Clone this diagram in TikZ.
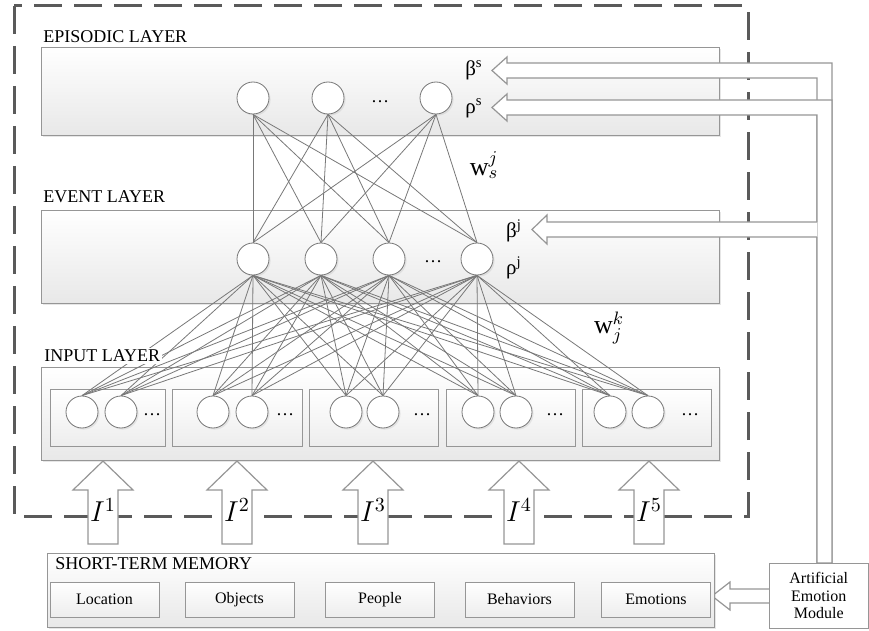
\documentclass[tikz,border=0pt]{standalone}
\usepackage{fontspec}
\setmainfont{Liberation Serif}
\usepackage{amsmath}
\usetikzlibrary{positioning, shadows}
\definecolor{boxgrey}{RGB}{150,150,150}
\definecolor{wiregrey}{RGB}{120,120,120}
\definecolor{framegrey}{RGB}{90,90,90}

\begin{document}
\begin{tikzpicture}[x=0.5pt, y=-0.5pt, font=\fontsize{9}{10}\selectfont,
    layerbox/.style={draw=boxgrey, top color=white, bottom color=black!9, inner sep=0pt,
      drop shadow={opacity=.2, shadow xshift=1pt, shadow yshift=-1pt}},
    groupbox/.style={draw=boxgrey, top color=white, bottom color=black!7, minimum height=28.5pt, inner sep=0pt},
    memcell/.style={draw=boxgrey, top color=white, bottom color=black!7, minimum width=54.5pt,
      minimum height=17.5pt, font=\fontsize{8}{9}\selectfont},
    neuron/.style={circle, draw=wiregrey, fill=white, minimum size=16pt, inner sep=0pt,
      drop shadow={opacity=.15, shadow xshift=.8pt, shadow yshift=-.8pt}},
    wire/.style={draw=wiregrey, line width=0.4pt},
    blockarrow/.style={draw=boxgrey, fill=white, line width=0.6pt},
    lbl/.style={anchor=west, inner sep=0pt},
    greek/.style={font=\fontsize{10.5}{12}\selectfont}]
    \useasboundingbox (0,0) rectangle (869,631);
    % Frame
    \draw[framegrey, line width=1.5pt, dash pattern=on 14pt off 6pt] (14,6) rectangle (748,516);
    % Layers
    \node[layerbox, minimum width=339pt, minimum height=44pt] (episodic) at (380,91) {};
    \node[lbl] (episodiclbl) at (43,37) {EPISODIC LAYER};
    \node[layerbox, minimum width=339pt, minimum height=46.5pt] (event) at (380,256.5) {};
    \node[lbl] (eventlbl) at (43,197) {EVENT LAYER};
    \node[layerbox, minimum width=339pt, minimum height=46.5pt] (input) at (380,413.5) {};
    \foreach \n/\cx/\w in {1/107.5/57.5, 2/237/65, 3/373.5/64.5, 4/510.5/64.5, 5/646.5/64.5}
      \node[groupbox, minimum width=\w pt] (g\n) at (\cx,417.5) {};
    % Neurons
    \foreach \n/\cx in {1/253, 2/328, 3/436}
      \node[neuron] (ep\n) at (\cx,98) {};
    \node (epdots) at (380,102) {\dots};
    \foreach \n/\cx in {1/253, 2/321, 3/389, 4/477}
      \node[neuron] (ev\n) at (\cx,259) {};
    \node (evdots) at (433,262) {\dots};
    \foreach \n/\a/\b/\d in {1/82/121/152, 2/213/252/285, 3/346/383/422, 4/478/516/555, 5/610/648/690}{
      \node[neuron] (in\n-1) at (\a,412) {};
      \node[neuron] (in\n-2) at (\b,412) {};
      \node (indots\n) at (\d,415) {\dots};
    }
    % Weights
    \foreach \i in {1,2,3}
      \foreach \j in {1,...,4}
        \draw[wire] (ep\i.south) -- (ev\j.north);
    \foreach \j in {1,...,4}
      \foreach \k in {1,...,5}
        \foreach \m in {1,2}
          \draw[wire] (ev\j.south) -- (in\k-\m.north);
    \node[lbl, fill=white, inner sep=1pt] (inputlbl) at (42,356) {INPUT LAYER};
    \node[fill=white, inner sep=1pt] (wsj) at (484,165) {\fontsize{13}{15}\selectfont$\mathrm{w}_s^j$};
    \node[fill=white, inner sep=1pt] (wjk) at (609,328) {\fontsize{13}{15}\selectfont$\mathrm{w}_j^k$};
    \node[greek] (betas) at (474,70) {β\textsuperscript{s}};
    \node[greek] (rhos) at (474,108) {ρ\textsuperscript{s}};
    \node[greek] (betaj) at (514,231) {β\textsuperscript{j}};
    \node[greek] (rhoj) at (514,268) {ρ\textsuperscript{j}};
    % Emotion feedback
    \draw[blockarrow] (492,70.5) -- (507,57) -- (507,63) -- (832,63) -- (832,563) -- (817,563)
      -- (817,78) -- (507,78) -- (507,84) -- cycle;
    \draw[blockarrow] (492,107.5) -- (507,94) -- (507,100) -- (832,100) -- (832,563) -- (817,563)
      -- (817,115) -- (507,115) -- (507,121) -- cycle;
    \fill[white] (532,229.5) -- (547,215) -- (547,222) -- (817.4,222) -- (817.4,237) -- (547,237)
      -- (547,244) -- cycle;
    \draw[boxgrey, line width=0.6pt] (817,222) -- (547,222) -- (547,215) -- (532,229.5) -- (547,244)
      -- (547,237) -- (817,237);
    \draw[blockarrow] (769,589) -- (730,589) -- (730,582) -- (712,596) -- (730,610) -- (730,603)
      -- (769,603);
    % Short-term memory
    \node[layerbox, minimum width=333.5pt, minimum height=37pt] (stm) at (380.5,590) {};
    \node[lbl] (stmlbl) at (55,564) {SHORT-TERM MEMORY};
    \foreach \n/\cx/\t in {1/104.5/Location, 2/239.5/Objects, 3/380/People, 4/519.5/Behaviors, 5/656/Emotions}
      \node[memcell] (m\n) at (\cx,599.5) {\t};
    \node[draw=boxgrey, fill=white, minimum width=49.5pt, minimum height=32.5pt, inner sep=0pt,
      align=center, font=\fontsize{8}{8.75}\selectfont] (aem) at (818.75,595.5) {Artificial\\Emotion\\Module};
    % Inputs
    \foreach \k/\cx in {1/103, 2/237, 3/373, 4/519, 5/649}{
      \draw[blockarrow] (\cx,461) -- ++(30,29) -- ++(-15,0) -- ++(0,54) -- ++(-30,0) -- ++(0,-54)
        -- ++(-15,0) -- cycle;
      \node (I\k) at (\cx,510) {\fontsize{14}{16}\selectfont$I^{\k}$};
    }
  \end{tikzpicture}
\end{document}
